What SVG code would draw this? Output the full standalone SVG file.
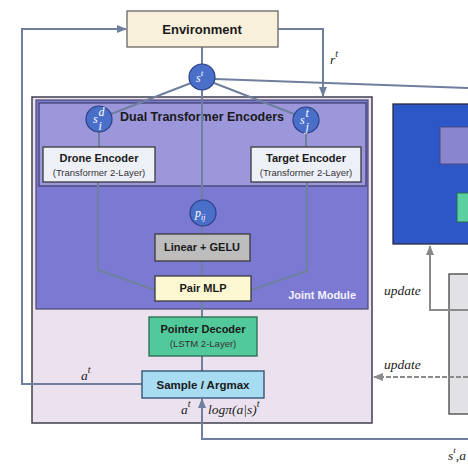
<svg xmlns="http://www.w3.org/2000/svg" width="468" height="468" viewBox="0 0 468 468">
<defs>
<marker id="ah" viewBox="0 0 10 10" refX="9" refY="5" markerWidth="5" markerHeight="5" orient="auto-start-reverse">
<path d="M0,1 L10,5 L0,9 z" fill="#6f7f9e"/>
</marker>
<marker id="ahg" viewBox="0 0 10 10" refX="9" refY="5" markerWidth="5" markerHeight="5" orient="auto-start-reverse">
<path d="M0,1 L10,5 L0,9 z" fill="#8a8a8a"/>
</marker>
<style>
.lbl{font-family:"Liberation Sans",Arial,sans-serif;font-weight:bold;fill:#1a1a1a;text-anchor:middle}
.sub{font-family:"Liberation Sans",Arial,sans-serif;fill:#333;text-anchor:middle;font-size:9.5px}
.math{font-family:"Liberation Serif","Times New Roman",serif;font-style:italic;fill:#222;font-size:13.5px}
.conn{fill:none;stroke:#6f7f9e;stroke-width:2}
.circ{fill:#4a6fc9;stroke:#2c3f86;stroke-width:1.2}
.ctext{font-family:"Liberation Serif",serif;font-style:italic;fill:#fff;font-size:12px}
.box{stroke:#3a3a3a;stroke-width:1.3}
</style>
</defs>
<rect width="468" height="468" fill="#ffffff"/>

<!-- containers -->
<g id="policy">
<rect x="32" y="97" width="340" height="326" fill="#ece2ef" stroke="#3f3f4f" stroke-width="1.5"/>
</g>
<g id="joint-module">
<rect x="36" y="100" width="332" height="209" fill="#7c79d3" stroke="#4a4a6e" stroke-width="1.2"/>
<text x="356" y="299" font-family="Liberation Sans,Arial,sans-serif" font-weight="bold" font-size="11" fill="#f4f2ff" text-anchor="end">Joint Module</text>
</g>
<g id="dual-encoders">
<rect x="39" y="103" width="327" height="83" fill="#9b97da" stroke="#3c3c6a" stroke-width="1.2"/>
<text x="202" y="121" class="lbl" font-size="12.5">Dual Transformer Encoders</text>
</g>

<!-- right side -->
<g id="target-network">
<rect x="393" y="104" width="80" height="140" fill="#2d56c6" stroke="#2a2a40" stroke-width="1.3"/>
<rect x="440" y="127" width="40" height="37" fill="#8985cf" stroke="#4a4a80" stroke-width="1"/>
<rect x="457" y="193" width="20" height="29" fill="#5ccfa0" stroke="#2c6a52" stroke-width="1"/>
</g>
<g id="buffer">
<rect x="449" y="274" width="25" height="140" fill="#e1e1e6" stroke="#444" stroke-width="1.3"/>
</g>

<!-- connectors -->
<g id="connectors">
<polyline class="conn" points="142,384 22,384 22,29 126,29" marker-end="url(#ah)"/>
<polyline class="conn" points="278,29 323,29 323,96" marker-end="url(#ah)"/>
<line class="conn" x1="202" y1="47" x2="202" y2="64"/>
<line class="conn" x1="202" y1="90" x2="202" y2="200"/>
<line class="conn" x1="191" y1="83" x2="111" y2="114"/>
<line class="conn" x1="214" y1="83" x2="294" y2="114"/>
<line class="conn" x1="215" y1="79" x2="468" y2="88"/>
<line class="conn" x1="99" y1="132" x2="99" y2="147"/>
<line class="conn" x1="306" y1="133" x2="306" y2="147"/>
<polyline class="conn" points="98,182 98,270 155,290"/>
<polyline class="conn" points="307,182 307,271 251,290"/>
<line class="conn" x1="202" y1="226" x2="202" y2="234"/>
<line class="conn" x1="202" y1="261" x2="202" y2="276"/>
<line class="conn" x1="202" y1="301" x2="202" y2="317"/>
<line class="conn" x1="202" y1="356" x2="202" y2="371"/>
<polyline class="conn" points="468,439 202,439 202,399" marker-end="url(#ah)"/>
<polyline fill="none" stroke="#8a8a8a" stroke-width="2" points="468,310 430,310 430,246" marker-end="url(#ahg)"/>
<line stroke="#8a8a8a" stroke-width="2" stroke-dasharray="5,2" x1="468" y1="377" x2="374" y2="377" marker-end="url(#ahg)"/>
</g>

<!-- nodes -->
<g id="environment">
<rect x="127" y="11" width="151" height="36" fill="#f8f0da" stroke="#666" stroke-width="1.3"/>
<text x="202" y="34" class="lbl" font-size="13">Environment</text>
</g>
<g id="state">
<circle class="circ" cx="202" cy="77" r="13"/>
<text x="196" y="82" class="ctext" font-size="13">s<tspan dy="-6" font-size="9">t</tspan></text>
</g>
<g id="drone-state">
<circle class="circ" cx="99" cy="119" r="13"/>
<text x="93" y="123" class="ctext" font-size="11">s</text>
<text x="98.5" y="116" class="ctext" font-size="7">d</text>
<text x="98.5" y="129.5" class="ctext" font-size="7">i</text>
</g>
<g id="target-state">
<circle class="circ" cx="306" cy="120" r="13"/>
<text x="300" y="124" class="ctext" font-size="11">s</text>
<text x="305.5" y="117" class="ctext" font-size="7">t</text>
<text x="305.5" y="130.5" class="ctext" font-size="7">j</text>
</g>
<g id="drone-encoder">
<rect class="box" x="43" y="147" width="112" height="35" fill="#eef0f8"/>
<text x="99" y="162" class="lbl" font-size="11">Drone Encoder</text>
<text x="99" y="176" class="sub">(Transformer 2-Layer)</text>
</g>
<g id="target-encoder">
<rect class="box" x="251" y="147" width="110" height="35" fill="#eef0f8"/>
<text x="306" y="162" class="lbl" font-size="11">Target Encoder</text>
<text x="306" y="176" class="sub">(Transformer 2-Layer)</text>
</g>
<g id="pair-prob">
<circle class="circ" cx="203" cy="213" r="13"/>
<text x="195" y="217" class="ctext" font-size="12">p<tspan dy="3" font-size="8">ij</tspan></text>
</g>
<g id="linear-gelu">
<rect class="box" x="155" y="234" width="95" height="27" fill="#bdbdbd"/>
<text x="202" y="251" class="lbl" font-size="11">Linear + GELU</text>
</g>
<g id="pair-mlp">
<rect class="box" x="155" y="276" width="96" height="25" fill="#fdf8d2"/>
<text x="203" y="292" class="lbl" font-size="11">Pair MLP</text>
</g>
<g id="pointer-decoder">
<rect x="149" y="317" width="108" height="39" fill="#52c99b" stroke="#2a6a50" stroke-width="1.3"/>
<text x="203" y="333" class="lbl" font-size="11">Pointer Decoder</text>
<text x="203" y="347" class="sub" fill="#234">(LSTM 2-Layer)</text>
</g>
<g id="sample-argmax">
<rect x="142" y="371" width="122" height="27" fill="#a8dcf2" stroke="#2a4a6a" stroke-width="1.3"/>
<text x="203" y="389" class="lbl" font-size="11.5">Sample / Argmax</text>
</g>

<!-- labels -->
<g id="labels">
<text x="330" y="64" class="math">r<tspan dy="-7" font-size="10">t</tspan></text>
<text x="81" y="380" class="math">a<tspan dy="-7" font-size="10">t</tspan></text>
<text x="181" y="414" class="math">a<tspan dy="-7" font-size="10">t</tspan></text>
<text x="208" y="414" class="math">logπ(a|s)<tspan dy="-7" font-size="10">t</tspan></text>
<text x="384" y="295" class="math">update</text>
<text x="384" y="369" class="math">update</text>
<text x="448" y="460" class="math" font-size="13">s<tspan dy="-7" font-size="9">t</tspan><tspan dy="7">,a</tspan></text>
</g>
</svg>
